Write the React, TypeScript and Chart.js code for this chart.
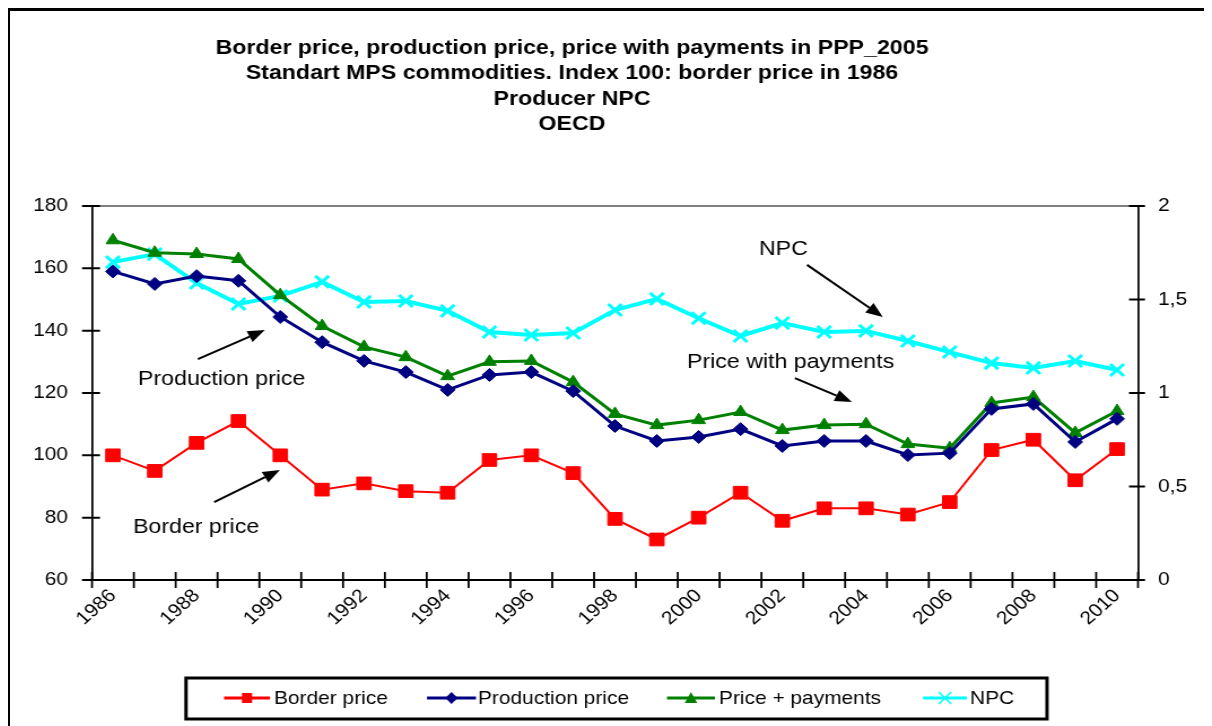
import React, { useEffect, useRef } from 'react';
import { Chart, registerables } from 'chart.js';

Chart.register(...registerables);

const years = ['1986','1987','1988','1989','1990','1991','1992','1993','1994','1995','1996','1997','1998','1999','2000','2001','2002','2003','2004','2005','2006','2007','2008','2009','2010'];
const borderPrice = [100, 95, 104, 111, 100, 89, 91, 88.5, 88, 98.5, 100, 94.3, 79.6, 73, 80, 88, 79, 83, 83, 81, 85, 101.7, 105, 92, 102];
const productionPrice = [159, 155, 157.5, 156, 144.4, 136.3, 130.3, 126.7, 121, 125.8, 126.7, 120.6, 109.4, 104.6, 105.9, 108.4, 103, 104.6, 104.6, 100.1, 100.7, 114.9, 116.5, 104.3, 111.7];
const pricePayments = [169, 165, 164.6, 163, 151.4, 141.5, 134.8, 131.5, 125.4, 130, 130.3, 123.5, 113.3, 109.7, 111.3, 113.9, 108.1, 109.7, 110, 103.6, 102.3, 116.8, 118.7, 107.2, 114.2];
const npc = [1.70, 1.743, 1.588, 1.476, 1.519, 1.594, 1.487, 1.492, 1.439, 1.326, 1.31, 1.321, 1.444, 1.503, 1.40, 1.305, 1.374, 1.326, 1.332, 1.278, 1.219, 1.160, 1.134, 1.171, 1.123];

const titleLines = [
  'Border price, production price, price with payments in PPP_2005',
  'Standart MPS commodities. Index 100: border price in 1986',
  'Producer NPC',
  'OECD',
];
const seriesNames = ['Border price', 'Production price', 'Price + payments', 'NPC'];
const seriesColors = ['#FF0000', '#000080', '#008000', '#00FFFF'];

// annotation labels, anchored in data coordinates (category index, left-axis value)
const annotationTexts = ['Production price', 'Border price', 'NPC', 'Price with payments'];
const annotationAnchors = [[0.6, 124.5], [0.48, 77.0], [15.44, 166.2], [13.72, 129.9]];
const arrowTails = [[2.03, 130.9], [2.42, 85.0], [16.59, 161.1], [16.3, 124.8]];
const arrowHeads = [[3.63, 140.2], [3.99, 95.3], [18.4, 144.4], [17.66, 117.1]];

const FONT = '"Liberation Sans", Arial, Helvetica, sans-serif';

// the original picture is horizontally stretched; render at a narrower size and stretch with CSS
const CSS_W = 1202;
const CANVAS_W = 1064;
const CANVAS_H = 715;
const S = CSS_W / CANVAS_W;
const cx = (px: number) => px / S; // display px (relative to canvas left) -> canvas px

function drawMarker(ctx: CanvasRenderingContext2D, kind: number, x: number, y: number) {
  ctx.save();
  ctx.fillStyle = seriesColors[kind];
  ctx.strokeStyle = seriesColors[kind];
  if (kind === 0) {
    ctx.fillRect(x - 4.5, y - 5, 9, 10);
  } else if (kind === 1) {
    ctx.beginPath();
    ctx.moveTo(x, y - 6); ctx.lineTo(x + 5.5, y); ctx.lineTo(x, y + 6); ctx.lineTo(x - 5.5, y);
    ctx.closePath(); ctx.fill();
  } else if (kind === 2) {
    ctx.beginPath();
    ctx.moveTo(x, y - 6); ctx.lineTo(x + 5.5, y + 5); ctx.lineTo(x - 5.5, y + 5);
    ctx.closePath(); ctx.fill();
  } else {
    ctx.lineWidth = 1.5;
    ctx.beginPath();
    ctx.moveTo(x - 5.5, y - 6); ctx.lineTo(x + 5.5, y + 6);
    ctx.moveTo(x + 5.5, y - 6); ctx.lineTo(x - 5.5, y + 6);
    ctx.stroke();
  }
  ctx.restore();
}

function drawArrow(ctx: CanvasRenderingContext2D, x1: number, y1: number, x2: number, y2: number) {
  const ang = Math.atan2(y2 - y1, x2 - x1);
  const len = 15, half = 6;
  const bx = x2 - len * Math.cos(ang), by = y2 - len * Math.sin(ang);
  ctx.save();
  ctx.strokeStyle = '#000';
  ctx.fillStyle = '#000';
  ctx.lineWidth = 2;
  ctx.beginPath();
  ctx.moveTo(x1, y1); ctx.lineTo(bx, by); ctx.stroke();
  ctx.beginPath();
  ctx.moveTo(x2, y2);
  ctx.lineTo(bx + half * Math.sin(ang), by - half * Math.cos(ang));
  ctx.lineTo(bx - half * Math.sin(ang), by + half * Math.cos(ang));
  ctx.closePath(); ctx.fill();
  ctx.restore();
}

const decor = {
  id: 'decor',
  beforeDatasetsDraw(chart: any) {
    const ctx = chart.ctx as CanvasRenderingContext2D;
    const ca = chart.chartArea;
    ctx.save();
    ctx.strokeStyle = '#808080';
    ctx.lineWidth = 2;
    ctx.beginPath();
    ctx.moveTo(ca.left, ca.top); ctx.lineTo(ca.right, ca.top); ctx.stroke();
    ctx.restore();
  },
  afterDraw(chart: any) {
    const ctx = chart.ctx as CanvasRenderingContext2D;
    const ca = chart.chartArea;
    const xs = chart.scales.x, ys = chart.scales.y, y1s = chart.scales.y1;
    ctx.save();
    // cross tick marks
    ctx.strokeStyle = '#000';
    ctx.lineWidth = 2;
    ctx.beginPath();
    ys.ticks.forEach((_t: any, i: number) => {
      const py = ys.getPixelForTick(i);
      ctx.moveTo(ca.left - cx(10), py); ctx.lineTo(ca.left + cx(8), py);
    });
    y1s.ticks.forEach((_t: any, i: number) => {
      const py = y1s.getPixelForTick(i);
      ctx.moveTo(ca.right - cx(9), py); ctx.lineTo(ca.right + cx(7), py);
    });
    ctx.stroke();
    ctx.lineWidth = 2 / S;
    ctx.beginPath();
    const halfW = (xs.getPixelForValue(1) - xs.getPixelForValue(0)) / 2;
    for (let i = 0; i <= years.length; i++) {
      const px = xs.getPixelForValue(i) - halfW;
      ctx.moveTo(px, ca.bottom - 8); ctx.lineTo(px, ca.bottom + 8);
    }
    ctx.stroke();

    // title
    ctx.fillStyle = '#000';
    ctx.font = 'bold 20.5px ' + FONT;
    ctx.textAlign = 'center';
    ctx.textBaseline = 'middle';
    titleLines.forEach((t, i) => ctx.fillText(t, cx(562), 37 + i * 25.5));

    // annotations
    ctx.font = '20.5px ' + FONT;
    ctx.textAlign = 'left';
    annotationTexts.forEach((t, i) => {
      const [ai, av] = annotationAnchors[i];
      ctx.fillText(t, xs.getPixelForValue(ai), ys.getPixelForValue(av));
      const [ti, tv] = arrowTails[i];
      const [hi, hv] = arrowHeads[i];
      drawArrow(ctx, xs.getPixelForValue(ti), ys.getPixelForValue(tv), xs.getPixelForValue(hi), ys.getPixelForValue(hv));
    });

    // legend
    ctx.strokeStyle = '#000';
    ctx.lineWidth = 3;
    ctx.strokeRect(cx(176), 667, cx(861), 41);
    const lineStarts = [214, 417, 657, 913];
    const lineEnds = [260, 466, 705, 957];
    const textStarts = [264, 468, 709, 960];
    const ly = 687;
    ctx.font = '18.5px ' + FONT;
    ctx.textBaseline = 'middle';
    seriesNames.forEach((name, i) => {
      ctx.strokeStyle = seriesColors[i];
      ctx.lineWidth = 3;
      ctx.beginPath();
      ctx.moveTo(cx(lineStarts[i]), ly); ctx.lineTo(cx(lineEnds[i]), ly); ctx.stroke();
      drawMarker(ctx, i, cx((lineStarts[i] + lineEnds[i]) / 2), ly);
      ctx.fillStyle = '#000';
      ctx.fillText(name, cx(textStarts[i]), ly + 1);
    });
    ctx.restore();
  },
};

export default function App() {
  const ref = useRef<HTMLCanvasElement | null>(null);
  useEffect(() => {
    if (!ref.current) return;
    Chart.defaults.font.family = FONT;
    Chart.defaults.color = '#000';
    const chart = new Chart(ref.current, {
      type: 'line',
      data: {
        labels: years,
        datasets: [
          {
            label: seriesNames[0], data: borderPrice, yAxisID: 'y',
            borderColor: seriesColors[0], backgroundColor: seriesColors[0], borderWidth: 2,
            pointStyle: 'rect', pointRadius: 9, pointBorderWidth: 1,
            pointBackgroundColor: seriesColors[0], pointBorderColor: seriesColors[0],
          },
          {
            label: seriesNames[1], data: productionPrice, yAxisID: 'y',
            borderColor: seriesColors[1], backgroundColor: seriesColors[1], borderWidth: 3,
            pointStyle: 'rectRot', pointRadius: 6.5, pointBorderWidth: 1,
            pointBackgroundColor: seriesColors[1], pointBorderColor: seriesColors[1],
          },
          {
            label: seriesNames[2], data: pricePayments, yAxisID: 'y',
            borderColor: seriesColors[2], backgroundColor: seriesColors[2], borderWidth: 3,
            pointStyle: 'triangle', pointRadius: 7, pointBorderWidth: 1,
            pointBackgroundColor: seriesColors[2], pointBorderColor: seriesColors[2],
          },
          {
            label: seriesNames[3], data: npc, yAxisID: 'y1',
            borderColor: seriesColors[3], backgroundColor: seriesColors[3], borderWidth: 4,
            pointStyle: 'crossRot', pointRadius: 8.5, pointBorderWidth: 3,
            pointBackgroundColor: seriesColors[3], pointBorderColor: seriesColors[3],
          },
        ],
      },
      options: {
        responsive: false,
        animation: false,
        devicePixelRatio: 1,
        layout: { padding: { top: 195, bottom: 86, left: 0, right: 0 } },
        plugins: { legend: { display: false }, title: { display: false }, tooltip: { enabled: false } },
        scales: {
          x: {
            type: 'category',
            offset: true,
            grid: { display: true, offset: true, drawOnChartArea: false, drawTicks: false },
            border: { display: true, color: '#000', width: 2 },
            ticks: {
              autoSkip: false, maxRotation: 45, minRotation: 45, padding: 5,
              font: { size: 18.5 }, color: '#000',
              callback: (_v: any, i: number) => (i % 2 === 0 ? years[i] : ''),
            },
            afterFit: (s: any) => { s.height = 60; },
          },
          y: {
            position: 'left', min: 60, max: 180,
            grid: { display: true, drawOnChartArea: false, drawTicks: false },
            border: { display: true, color: '#000', width: 2 / S },
            ticks: { stepSize: 20, padding: cx(24), font: { size: 18.5 }, color: '#000' },
            afterFit: (s: any) => { s.width = cx(82); },
          },
          y1: {
            position: 'right', min: 0, max: 2,
            grid: { display: true, drawOnChartArea: false, drawTicks: false },
            border: { display: true, color: '#000', width: 2 / S },
            ticks: {
              stepSize: 0.5, padding: cx(20), font: { size: 18.5 }, color: '#000',
              callback: (v: any) => String(v).replace('.', ','),
            },
            afterFit: (s: any) => { s.width = CANVAS_W - cx(1128); },
          },
        },
      },
      plugins: [decor],
    } as any);
    return () => chart.destroy();
  }, []);
  return (
    <div style={{ borderLeft: '2px solid #000', borderTop: '3px solid #000', width: CSS_W, height: CANVAS_H, overflow: 'hidden', background: '#fff' }}>
      <canvas ref={ref} width={CANVAS_W} height={CANVAS_H} style={{ display: 'block', width: CSS_W, height: CANVAS_H }} />
    </div>
  );
}
